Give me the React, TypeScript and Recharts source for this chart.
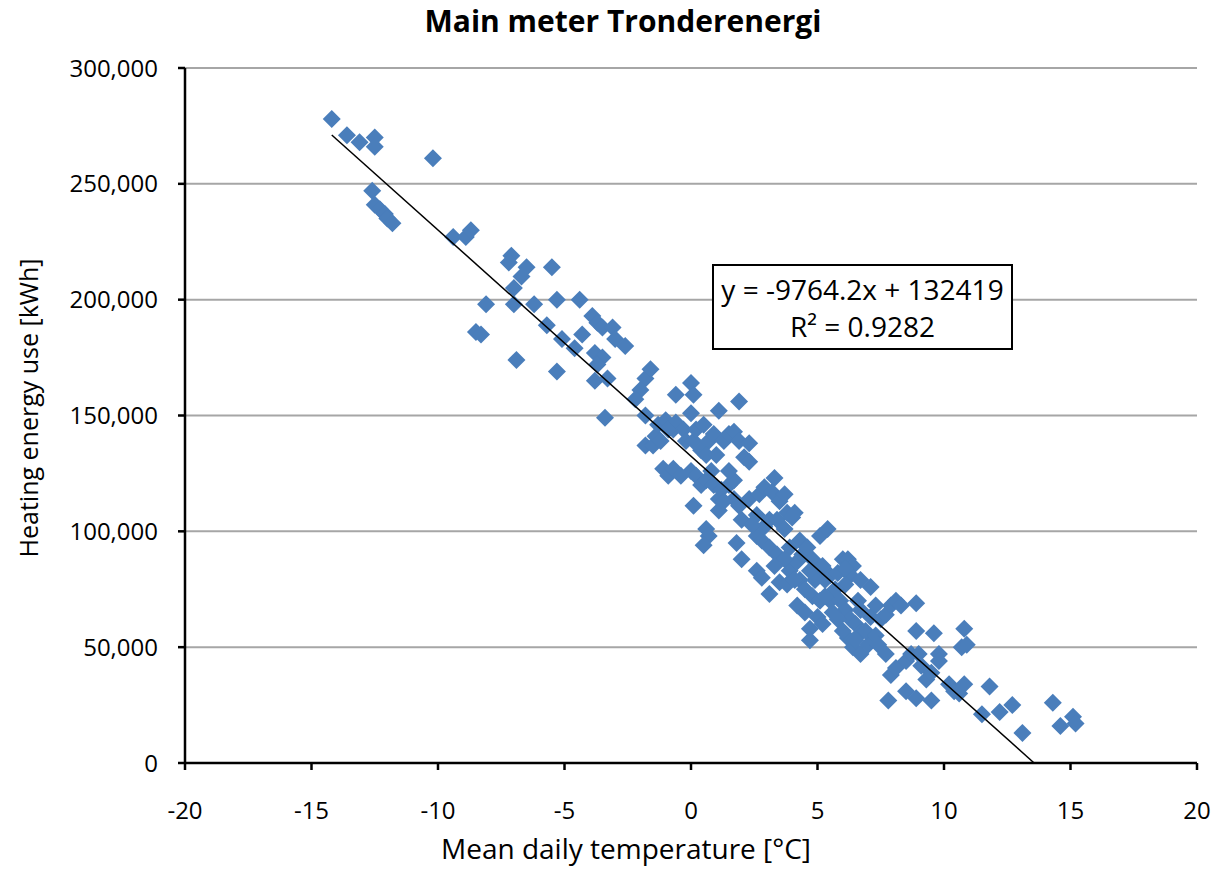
import { ScatterChart, Scatter, XAxis, YAxis, CartesianGrid } from 'recharts';

const FONT = '"Open Sans", sans-serif';
const MARKER_BLUE = '#4A7EBB';

const X_TICKS = [-20, -15, -10, -5, 0, 5, 10, 15, 20];
const Y_TICKS = [0, 50000, 100000, 150000, 200000, 250000, 300000];

// mean daily temperature [°C], one entry per day
const tempC = [
  -14.2, -13.6, -13.1, -12.5, -12.5, -10.2, -12.6, -12.5, -12.3, -12.1, -12.0, -11.8,
  -9.4, -8.9, -8.7, -7.1, -7.2, -6.5, -6.7, -5.5, -7.0, -7.0, -8.1, -6.2, -5.3, -4.4,
  -8.5, -8.3, -6.9, -5.7, -5.1, -4.6, -4.3, -3.9, -3.7, -3.5, -3.1, -3.0, -2.6, -3.8,
  -3.5, -3.7, -3.8, -3.3, -5.3, -3.4, -1.8, -1.6, -2.0, -2.2, -1.8, -1.8, -1.5, -1.4,
  -1.3, -1.0, -1.1, -0.9, -0.7, -0.4, -0.7, -0.6, -0.3, -0.6, 0.0, 0.1, 0.0, -0.2,
  0.1, 0.2, 0.4, 0.5, 0.7, 0.9, 1.1, 1.9, 1.3, 1.5, 1.7, 1.9, 2.3, 2.1, 2.3, 0.0,
  0.2, 0.4, 0.1, 0.6, 0.8, 0.9, 1.1, 1.2, 1.1, 1.5, 1.7, 1.7, 1.9, 0.6, 0.7, 0.5,
  1.8, 2.0, 2.0, 2.3, 2.7, 2.9, 3.3, 3.2, 3.5, 3.7, 2.6, 2.8, 2.9, 3.1, 3.4, 3.8,
  4.0, 4.1, 3.7, 4.3, 3.1, 3.4, 2.6, 2.8, 3.1, 3.5, 3.8, 3.9, 4.2, 4.4, 4.6, 4.8,
  5.1, 5.4, 5.0, 5.3, 5.5, 5.8, 6.0, 6.2, 6.4, 6.3, 6.1, 4.2, 4.5, 4.7, 4.7, 5.0,
  5.2, 5.5, 5.7, 5.9, 6.1, 6.3, 6.5, 6.7, 6.2, 6.4, 6.7, 7.0, 7.1, 7.3, 7.1, 7.5,
  7.7, 7.9, 8.1, 8.3, 7.7, 7.9, 8.1, 7.8, 8.5, 8.7, 8.9, 8.9, 9.0, 9.1, 8.5, 8.9,
  9.3, 9.5, 9.6, 9.8, 9.8, 9.5, 10.2, 10.4, 10.6, 10.8, 10.7, 10.8, 10.9, 11.8, 11.5, 12.2,
  12.7, 13.1, 14.3, 14.6, 15.1, 15.2,
  4.3, 4.5, 4.8, 5.1, 4.9, 5.3, 5.6, 5.8, 6.0, 6.6, 6.7, 6.5, 6.9, 7.3, 7.4, 6.1,
  6.7, 3.9, 4.1, 3.7, 3.3, 4.7, 5.2, 2.6, 2.4, 1.5, 1.3, 0.6, 1.0, -0.9, -1.2,
];

// heating energy use [kWh], same order as tempC
const energyKWh = [
  278000, 271000, 268000, 270000, 266000, 261000, 247000, 241000, 239000, 237000, 235000, 233000,
  227000, 227000, 230000, 219000, 216000, 214000, 210000, 214000, 205000, 198000, 198000, 198000, 200000, 200000,
  186000, 185000, 174000, 189000, 183000, 179000, 185000, 193000, 190000, 188000, 188000, 183000, 180000, 177000,
  175000, 172000, 165000, 166000, 169000, 149000, 166000, 170000, 161000, 157000, 150000, 137000, 137000, 141000,
  146000, 148000, 127000, 124000, 127000, 124000, 144000, 147000, 144000, 159000, 164000, 159000, 151000, 139000,
  139000, 144000, 135000, 146000, 139000, 142000, 152000, 156000, 139000, 142000, 143000, 139000, 138000, 132000, 130000, 126000,
  124000, 120000, 111000, 122000, 126000, 120000, 114000, 118000, 109000, 120000, 122000, 114000, 111000, 101000, 98000, 94000,
  95000, 105000, 88000, 114000, 116000, 119000, 123000, 117000, 113000, 116000, 98000, 96000, 102000, 105000, 105000, 108000,
  106000, 108000, 101000, 96000, 93000, 90000, 83000, 80000, 73000, 78000, 77000, 83000, 87000, 90000, 93000, 88000,
  98000, 101000, 83000, 79000, 81000, 82000, 88000, 88000, 85000, 81000, 77000, 68000, 65000, 58000, 53000, 63000,
  60000, 70000, 75000, 70000, 66000, 62000, 60000, 56000, 54000, 50000, 47000, 51000, 63000, 68000, 76000, 62000,
  64000, 68000, 70000, 68000, 47000, 38000, 41000, 27000, 44000, 47000, 69000, 57000, 47000, 42000, 31000, 28000,
  36000, 27000, 56000, 47000, 44000, 39000, 34000, 31000, 30000, 34000, 50000, 58000, 51000, 33000, 21000, 22000,
  25000, 13000, 26000, 16000, 20000, 17000,
  79000, 75000, 72000, 70000, 79000, 72000, 65000, 62000, 57000, 70000, 66000, 53000, 57000, 55000, 51000, 84000,
  79000, 93000, 79000, 88000, 85000, 83000, 85000, 107000, 103000, 126000, 113000, 133000, 133000, 144000, 139000,
];

const points = tempC.map((t, i) => ({ t, e: energyKWh[i] }));

// linear fit shown in the box
const SLOPE = -9764.2;
const INTERCEPT = 132419;
const R2 = '0.9282';
const TREND_FROM = -14.2;
const trend = [
  { t: TREND_FROM, e: SLOPE * TREND_FROM + INTERCEPT },
  { t: -INTERCEPT / SLOPE, e: 0 },
];

function Diamond(props: any) {
  const { cx, cy } = props;
  if (cx == null || cy == null) return <g />;
  const r = 9;
  return (
    <polygon
      points={`${cx},${cy - r} ${cx + r},${cy} ${cx},${cy + r} ${cx - r},${cy}`}
      fill={MARKER_BLUE}
    />
  );
}

const tickStyle = { fontSize: 24, fill: '#000', fontFamily: FONT };
const axisStroke = { stroke: '#000', strokeWidth: 2.5 };

export default function App() {
  return (
    <div style={{ position: 'absolute', left: 0, top: 0, width: 1223, height: 870, background: '#fff', fontFamily: FONT }}>
      <ScatterChart width={1223} height={870} margin={{ top: 68, right: 26, bottom: 0, left: 0 }}>
        <CartesianGrid vertical={false} stroke="#A6A6A6" strokeWidth={2} />
        <XAxis
          type="number"
          dataKey="t"
          domain={[-20, 20]}
          ticks={X_TICKS}
          allowDataOverflow
          height={107}
          tick={tickStyle}
          tickSize={7}
          tickMargin={32}
          axisLine={axisStroke}
          tickLine={axisStroke}
        />
        <YAxis
          type="number"
          dataKey="e"
          domain={[0, 300000]}
          ticks={Y_TICKS}
          width={185}
          tick={tickStyle}
          tickSize={7}
          tickMargin={20}
          tickFormatter={(v: number) => v.toLocaleString('en-US')}
          axisLine={axisStroke}
          tickLine={axisStroke}
        />
        <Scatter data={points} shape={Diamond} isAnimationActive={false} />
        <Scatter
          data={trend}
          line={{ stroke: '#000', strokeWidth: 1.5 }}
          shape={() => <g />}
          isAnimationActive={false}
        />
      </ScatterChart>

      <div style={{ position: 'absolute', left: 623, top: 6, transform: 'translateX(-50%)', fontSize: 30, lineHeight: '30px', fontWeight: 700, whiteSpace: 'nowrap' }}>
        Main meter Tronderenergi
      </div>

      <div style={{ position: 'absolute', left: 626, top: 834, transform: 'translateX(-50%)', fontSize: 28, lineHeight: '28px', whiteSpace: 'nowrap' }}>
        Mean daily temperature [°C]
      </div>

      <div style={{ position: 'absolute', left: 28 - 200, top: 408 - 15, width: 400, height: 30, lineHeight: '30px', fontSize: 25, textAlign: 'center', transform: 'rotate(-90deg)', whiteSpace: 'nowrap' }}>
        Heating energy use [kWh]
      </div>

      <div style={{ position: 'absolute', left: 712, top: 264, width: 301, height: 86, boxSizing: 'border-box', border: '2px solid #000', background: '#fff', paddingTop: 5, textAlign: 'center', fontSize: 28, lineHeight: '37px', whiteSpace: 'nowrap' }}>
        <div>y = {SLOPE}x + {INTERCEPT}</div>
        <div>R² = {R2}</div>
      </div>
    </div>
  );
}
